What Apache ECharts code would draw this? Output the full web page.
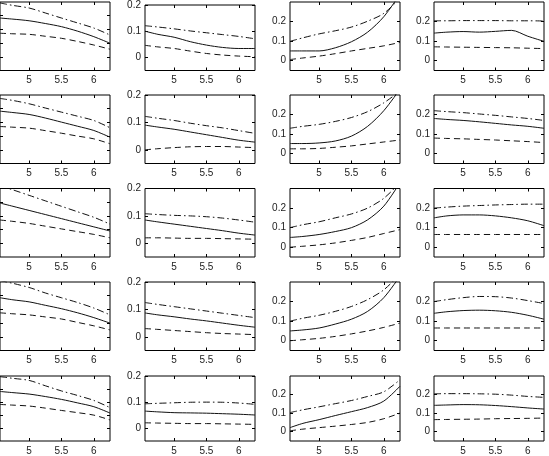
<!DOCTYPE html>
<html>
<head>
<meta charset="utf-8">
<script src="https://cdn.jsdelivr.net/npm/echarts@6/dist/echarts.min.js"></script>
<style>
  html, body { margin: 0; padding: 0; background: #fff; }
  #main { width: 549px; height: 456px; }
</style>
</head>
<body>
<div id="main"></div>
<script>
// shared x grid (log scale values), ticks and labels
var xs = [4.55, 4.75, 5.0, 5.25, 5.5, 5.75, 6.0, 6.25];
var xTicks = [5, 5.5, 6];
var yTicks = [0, 0.1, 0.2];

// estimate (solid), upper band (dash-dot), lower band (dashed); one row per panel row
var estCol1 = [
    [0.383, 0.375, 0.363, 0.343, 0.320, 0.287, 0.247, 0.199],
    [0.382, 0.372, 0.358, 0.332, 0.302, 0.272, 0.241, 0.192],
    [0.394, 0.370, 0.340, 0.310, 0.280, 0.250, 0.220, 0.190],
    [0.385, 0.370, 0.355, 0.330, 0.305, 0.275, 0.240, 0.200],
    [0.381, 0.372, 0.361, 0.342, 0.320, 0.293, 0.264, 0.215]
];
var upCol1 = [
    [0.493, 0.475, 0.456, 0.420, 0.383, 0.347, 0.310, 0.259],
    [0.475, 0.460, 0.436, 0.405, 0.375, 0.345, 0.314, 0.261],
    [0.520, 0.490, 0.450, 0.410, 0.370, 0.330, 0.290, 0.240],
    [0.510, 0.490, 0.460, 0.420, 0.385, 0.350, 0.310, 0.260],
    [0.495, 0.482, 0.466, 0.425, 0.385, 0.350, 0.312, 0.257]
];
var loCol1 = [
    [0.272, 0.268, 0.264, 0.250, 0.235, 0.212, 0.186, 0.155],
    [0.270, 0.265, 0.258, 0.240, 0.221, 0.200, 0.180, 0.144],
    [0.270, 0.260, 0.245, 0.225, 0.205, 0.185, 0.165, 0.140],
    [0.275, 0.268, 0.260, 0.245, 0.230, 0.205, 0.180, 0.150],
    [0.281, 0.276, 0.269, 0.253, 0.235, 0.218, 0.199, 0.162]
];

var estCol2 = [
    [0.100, 0.088, 0.077, 0.060, 0.047, 0.038, 0.034, 0.034],
    [0.090, 0.083, 0.075, 0.065, 0.055, 0.045, 0.035, 0.028],
    [0.085, 0.078, 0.070, 0.062, 0.054, 0.046, 0.037, 0.030],
    [0.087, 0.080, 0.073, 0.065, 0.058, 0.050, 0.042, 0.035],
    [0.065, 0.062, 0.059, 0.058, 0.057, 0.055, 0.053, 0.050]
];
var upCol2 = [
    [0.121, 0.116, 0.109, 0.101, 0.094, 0.087, 0.080, 0.071],
    [0.122, 0.115, 0.107, 0.097, 0.088, 0.080, 0.070, 0.060],
    [0.108, 0.105, 0.102, 0.100, 0.097, 0.092, 0.085, 0.077],
    [0.125, 0.118, 0.110, 0.102, 0.094, 0.086, 0.078, 0.070],
    [0.093, 0.095, 0.097, 0.099, 0.0995, 0.099, 0.096, 0.091]
];
var loCol2 = [
    [0.046, 0.040, 0.034, 0.024, 0.015, 0.009, 0.005, 0.0025],
    [0.000, 0.004, 0.008, 0.011, 0.012, 0.012, 0.010, 0.008],
    [0.020, 0.020, 0.019, 0.018, 0.018, 0.017, 0.016, 0.015],
    [0.030, 0.027, 0.023, 0.019, 0.015, 0.012, 0.010, 0.008],
    [0.020, 0.019, 0.018, 0.017, 0.017, 0.016, 0.015, 0.014]
];

var estCol3 = [
    [0.050, 0.050, 0.050, 0.066, 0.097, 0.146, 0.225, 0.340],
    [0.052, 0.052, 0.055, 0.065, 0.090, 0.140, 0.220, 0.330],
    [0.050, 0.055, 0.065, 0.080, 0.100, 0.140, 0.210, 0.330],
    [0.050, 0.055, 0.065, 0.085, 0.110, 0.150, 0.220, 0.330],
    [0.022, 0.045, 0.065, 0.087, 0.108, 0.130, 0.165, 0.245]
];
var upCol3 = [
    [0.099, 0.117, 0.137, 0.153, 0.172, 0.202, 0.242, 0.320],
    [0.130, 0.140, 0.150, 0.165, 0.185, 0.215, 0.260, 0.320],
    [0.100, 0.115, 0.130, 0.150, 0.170, 0.200, 0.250, 0.330],
    [0.100, 0.115, 0.130, 0.150, 0.175, 0.210, 0.260, 0.340],
    [0.103, 0.118, 0.134, 0.151, 0.168, 0.190, 0.215, 0.280]
];
var loCol3 = [
    [0.006, 0.014, 0.0235, 0.036, 0.050, 0.063, 0.076, 0.0935],
    [0.025, 0.025, 0.027, 0.033, 0.040, 0.050, 0.060, 0.070],
    [0.000, 0.005, 0.012, 0.022, 0.035, 0.050, 0.070, 0.090],
    [0.000, 0.005, 0.012, 0.022, 0.035, 0.050, 0.068, 0.090],
    [0.005, 0.014, 0.022, 0.030, 0.039, 0.050, 0.070, 0.100]
];

var estCol4 = [
    [0.141, 0.146, 0.149, 0.146, 0.150, 0.155, 0.125, 0.099],
    [0.180, 0.175, 0.170, 0.163, 0.155, 0.147, 0.140, 0.130],
    [0.150, 0.160, 0.165, 0.165, 0.160, 0.150, 0.135, 0.110],
    [0.140, 0.148, 0.154, 0.156, 0.153, 0.145, 0.130, 0.110],
    [0.142, 0.144, 0.146, 0.145, 0.141, 0.135, 0.128, 0.122]
];
var upCol4 = [
    [0.204, 0.204, 0.205, 0.205, 0.205, 0.204, 0.204, 0.203],
    [0.220, 0.215, 0.210, 0.203, 0.196, 0.188, 0.180, 0.170],
    [0.200, 0.205, 0.210, 0.213, 0.216, 0.218, 0.220, 0.220],
    [0.200, 0.210, 0.220, 0.226, 0.225, 0.218, 0.205, 0.190],
    [0.204, 0.205, 0.205, 0.204, 0.202, 0.197, 0.190, 0.185]
];
var loCol4 = [
    [0.071, 0.070, 0.069, 0.068, 0.067, 0.066, 0.064, 0.062],
    [0.080, 0.078, 0.076, 0.073, 0.070, 0.066, 0.062, 0.057],
    [0.065, 0.065, 0.065, 0.065, 0.065, 0.065, 0.065, 0.065],
    [0.065, 0.065, 0.065, 0.065, 0.065, 0.065, 0.065, 0.065],
    [0.065, 0.066, 0.067, 0.068, 0.070, 0.071, 0.072, 0.0735]
];

var est = [estCol1, estCol2, estCol3, estCol4];
var up = [upCol1, upCol2, upCol3, upCol4];
var lo = [loCol1, loCol2, loCol3, loCol4];

// y ranges per column (first column's labels fall outside the picture)
var yMin = [0, -0.05, -0.05, -0.05];
var yMax = [0.5, 0.2, 0.3, 0.3];

var colLeft = [0, 145, 290, 434];
var rowTop = [2, 95, 188.5, 282, 376];
var boxW = 110, boxH = 68.5;

var labelFont = { fontFamily: 'Liberation Sans, Arial, sans-serif', fontSize: 10, color: '#222' };

function pairs(arr) {
    return xs.map(function (x, i) { return [x, arr[i]]; });
}

var grids = [], xAxes = [], yAxes = [], series = [];
var idx = 0;
for (var r = 0; r < 5; r++) {
    for (var c = 0; c < 4; c++) {
        grids.push({
            left: colLeft[c], top: rowTop[r], width: boxW, height: boxH,
            show: true, borderColor: '#000', borderWidth: 1, backgroundColor: 'transparent'
        });
        var tickStyle = { inside: true, length: 3, lineStyle: { color: '#000' } };
        // bottom axis with labels, top axis ticks only
        xAxes.push({
            type: 'value', gridIndex: idx, position: 'bottom', min: 4.55, max: 6.25,
            axisLine: { show: false, onZero: false }, splitLine: { show: false },
            axisTick: Object.assign({ customValues: xTicks }, tickStyle),
            axisLabel: Object.assign({ margin: 5, customValues: xTicks }, labelFont)
        });
        xAxes.push({
            type: 'value', gridIndex: idx, position: 'top', min: 4.55, max: 6.25,
            axisLine: { show: false, onZero: false }, splitLine: { show: false },
            axisTick: Object.assign({ customValues: xTicks }, tickStyle),
            axisLabel: { show: false }
        });
        var yt = c === 0 ? [0.1, 0.2, 0.3, 0.4] : yTicks;
        yAxes.push({
            type: 'value', gridIndex: idx, position: 'left', min: yMin[c], max: yMax[c],
            axisLine: { show: false, onZero: false }, splitLine: { show: false },
            axisTick: Object.assign({ customValues: yt }, tickStyle),
            axisLabel: Object.assign({ show: c > 0, margin: 4, customValues: yt }, labelFont)
        });
        yAxes.push({
            type: 'value', gridIndex: idx, position: 'right', min: yMin[c], max: yMax[c],
            axisLine: { show: false, onZero: false }, splitLine: { show: false },
            axisTick: Object.assign({ customValues: yt }, tickStyle),
            axisLabel: { show: false }
        });
        var base = { type: 'line', xAxisIndex: idx * 2, yAxisIndex: idx * 2, showSymbol: false,
            smooth: 0.3, clip: true, silent: true, animation: false };
        series.push(Object.assign({}, base, {
            data: pairs(est[c][r]), lineStyle: { color: '#111', width: 1, type: 'solid' }
        }));
        series.push(Object.assign({}, base, {
            data: pairs(up[c][r]), lineStyle: { color: '#111', width: 1, type: [7, 3, 1.5, 3] }
        }));
        series.push(Object.assign({}, base, {
            data: pairs(lo[c][r]), lineStyle: { color: '#111', width: 1, type: [6, 4] }
        }));
        idx++;
    }
}

var chart = echarts.init(document.getElementById('main'));
chart.setOption({
    animation: false,
    grid: grids,
    xAxis: xAxes,
    yAxis: yAxes,
    series: series
});
</script>
</body>
</html>
